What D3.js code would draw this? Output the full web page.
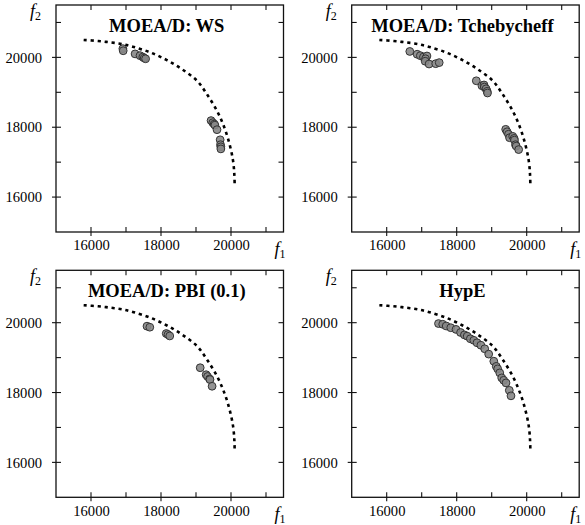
<!DOCTYPE html>
<html>
<head>
<meta charset="utf-8">
<script src="https://cdn.jsdelivr.net/npm/d3@7/dist/d3.min.js"></script>
<style>
  html, body { margin: 0; padding: 0; background: #fff; }
  svg { display: block; }
  text { font-family: "Liberation Serif", "Times New Roman", serif; fill: #000; }
</style>
</head>
<body>
<svg id="chart" width="585" height="525"></svg>
<script>
// ---------------- data ----------------
const titles = ["MOEA/D: WS", "MOEA/D: Tchebycheff", "MOEA/D: PBI (0.1)", "HypE"];

const majorTicks = [16000, 18000, 20000];
const minorTicks = [17000, 19000, 21000];

// Pareto front (dashed curve)
const frontF1 = [15790, 16200, 16550, 16900, 17220, 17700, 18170, 18600, 19030, 19310, 19600, 19810, 19960, 20060, 20095, 20105];
const frontF2 = [20500, 20470, 20430, 20380, 20300, 20140, 19920, 19660, 19330, 18950, 18470, 17990, 17510, 17030, 16650, 16320];

// MOEA/D: WS
const wsF1 = [16910, 16920, 17260, 17400, 17480, 17520, 17560, 19430, 19480, 19520, 19540, 19600, 19690, 19700, 19710, 19710];
const wsF2 = [20250, 20190, 20100, 20050, 20010, 19980, 19960, 18190, 18130, 18090, 18060, 17930, 17640, 17500, 17440, 17380];

// MOEA/D: Tchebycheff
const tchF1 = [16660, 16870, 16960, 17050, 17150, 17110, 17100, 17210, 17400, 17500,
               18560, 18720, 18780, 18790, 18840, 18870, 18880,
               19400, 19440, 19480, 19510, 19600, 19640, 19650, 19680, 19700, 19770];
const tchF2 = [20170, 20090, 20050, 20010, 20040, 19960, 19890, 19810, 19820, 19850,
               19330, 19190, 19210, 19150, 19100, 19030, 18980,
               17940, 17870, 17800, 17700, 17740, 17680, 17630, 17500, 17460, 17360];

// MOEA/D: PBI (0.1)
const pbiF1 = [17600, 17680, 18150, 18200, 18250, 19120, 19290, 19330, 19390, 19400, 19460];
const pbiF2 = [19900, 19870, 19690, 19660, 19620, 18710, 18510, 18460, 18390, 18370, 18180];

// HypE
const hypF1 = [17480, 17600, 17700, 17830, 17980, 18110, 18220, 18300, 18390, 18490, 18580, 18690, 18800, 18914, 19060, 19130, 19170, 19230, 19286, 19343, 19409, 19503, 19551];
const hypF2 = [19975, 19955, 19905, 19856, 19808, 19720, 19650, 19615, 19540, 19495, 19425, 19355, 19253, 19100, 18897, 18750, 18678, 18563, 18420, 18351, 18276, 18063, 17905];

const seriesF1 = [wsF1, tchF1, pbiF1, hypF1];
const seriesF2 = [wsF2, tchF2, pbiF2, hypF2];

// ---------------- drawing ----------------
const FONT = "'Liberation Serif', 'Times New Roman', serif";
const svg = d3.select("#chart");
const domain = [15000, 21500];
const x = d3.scaleLinear().domain(domain).range([0, 227.5]);
const y = d3.scaleLinear().domain(domain).range([227, 0]);
const W = 227.5, H = 227;

const panelPos = [[56, 5], [351.7, 5], [56, 270.3], [351.7, 270.3]];

const front = frontF1.map((v, i) => [v, frontF2[i]]);
const line = d3.line().x(d => x(d[0])).y(d => y(d[1])).curve(d3.curveCatmullRom.alpha(0.5));
const fmt = d3.format("d");

titles.forEach((title, p) => {
  const g = svg.append("g").attr("transform", `translate(${panelPos[p][0]},${panelPos[p][1]})`);

  // axes: labels on left/bottom
  const allTicks = majorTicks.concat(minorTicks).sort();
  const bottom = d3.axisBottom(x).tickValues(majorTicks).tickFormat(fmt).tickSizeInner(0).tickSizeOuter(0).tickPadding(8);
  const left = d3.axisLeft(y).tickValues(majorTicks).tickFormat(fmt).tickSizeInner(0).tickSizeOuter(0).tickPadding(14);
  const gb = g.append("g").attr("transform", `translate(0,${H})`).call(bottom);
  const gl = g.append("g").call(left);
  [gb, gl].forEach(a => {
    a.attr("font-family", FONT).attr("font-size", 14.6);
    a.select(".domain").remove();
    a.selectAll("text").attr("fill", "#000").style("font-family", FONT).style("font-size", "14.6px");
  });

  // inward ticks on all four sides
  const tickG = g.append("g").attr("stroke", "#111").attr("stroke-width", 1.1);
  allTicks.forEach(t => {
    const isMajor = majorTicks.includes(t);
    const out = isMajor ? 4 : 0;
    tickG.append("line").attr("x1", x(t)).attr("x2", x(t)).attr("y1", H + out).attr("y2", H - 5);
    tickG.append("line").attr("x1", x(t)).attr("x2", x(t)).attr("y1", 0).attr("y2", 5);
    tickG.append("line").attr("y1", y(t)).attr("y2", y(t)).attr("x1", -out).attr("x2", 5);
    tickG.append("line").attr("y1", y(t)).attr("y2", y(t)).attr("x1", W).attr("x2", W - 5);
  });

  // frame
  g.append("rect").attr("x", 0).attr("y", 0).attr("width", W).attr("height", H)
    .attr("fill", "none").attr("stroke", "#111").attr("stroke-width", 1.3);

  // title
  g.append("text").attr("x", W / 2 - 3).attr("y", 27).attr("text-anchor", "middle")
    .attr("font-size", 18.5).attr("font-weight", "bold").text(title);

  // axis names
  const f1 = g.append("text").attr("x", W + 2).attr("y", H + 23).attr("text-anchor", "end")
    .attr("font-size", 18).attr("font-style", "italic");
  f1.append("tspan").text("f");
  f1.append("tspan").attr("font-size", 12).attr("font-style", "normal").attr("dy", 3).text("1");

  const f2 = g.append("text").attr("x", -26).attr("y", 12).attr("font-size", 18).attr("font-style", "italic");
  f2.append("tspan").text("f");
  f2.append("tspan").attr("font-size", 12).attr("font-style", "normal").attr("dy", 3).text("2");

  // points
  const pts = seriesF1[p].map((v, i) => [v, seriesF2[p][i]]);
  g.append("g").selectAll("circle").data(pts).join("circle")
    .attr("cx", d => x(d[0])).attr("cy", d => y(d[1])).attr("r", 3.9)
    .attr("fill", "#878787").attr("fill-opacity", 0.9)
    .attr("stroke", "#333").attr("stroke-width", 1);

  // dashed Pareto front
  g.append("path").datum(front).attr("d", line)
    .attr("fill", "none").attr("stroke", "#000").attr("stroke-width", 2.6)
    .attr("stroke-dasharray", "3.2,3.8");
});
</script>
</body>
</html>
